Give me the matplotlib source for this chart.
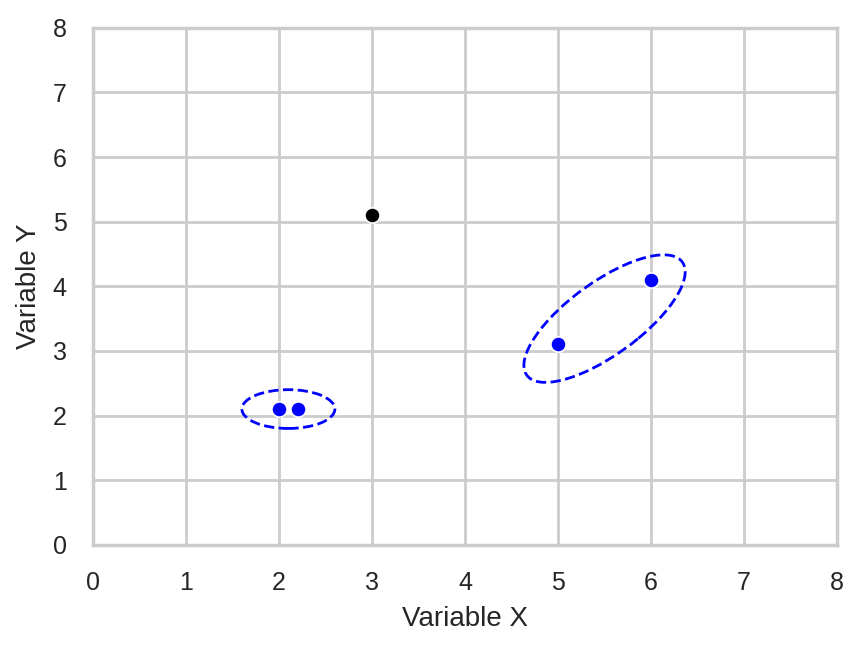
import matplotlib
matplotlib.use('Agg')
import matplotlib.pyplot as plt
from matplotlib.patches import Ellipse
import seaborn as sns

sns.set_theme(style='whitegrid')
plt.rcParams['font.family'] = ['Liberation Sans', 'DejaVu Sans']

blue_x = [2, 2.2, 5, 6]
blue_y = [2.1, 2.1, 3.1, 4.1]
black_x = [3]
black_y = [5.1]

# cluster outlines: centre, width, height, angle
clusters = [((2.1, 2.1), 1.0, 0.6, 0),
            ((5.5, 3.5), 2.45, 0.95, 50)]

fig = plt.figure(figsize=(4.31, 3.235), dpi=200)
ax = fig.add_axes([0.108, 0.158, 0.863, 0.799])

ax.scatter(blue_x, blue_y, color='blue', s=30, edgecolor='white', linewidth=0.6, zorder=3)
ax.scatter(black_x, black_y, color='black', s=30, edgecolor='white', linewidth=0.6, zorder=3)

for c, w, h, a in clusters:
    e = Ellipse(c, w, h, angle=a, fill=False, edgecolor='blue',
                linestyle='--', linewidth=1.0, zorder=2)
    ax.add_patch(e)

ax.set_xlim(0, 8)
ax.set_ylim(0, 8)
ax.set_xticks(range(9))
ax.set_yticks(range(9))
ax.tick_params(labelsize=9)
ax.set_xlabel('Variable X', fontsize=10)
ax.set_ylabel('Variable Y', fontsize=10)

fig.savefig('out.png', dpi=200)
